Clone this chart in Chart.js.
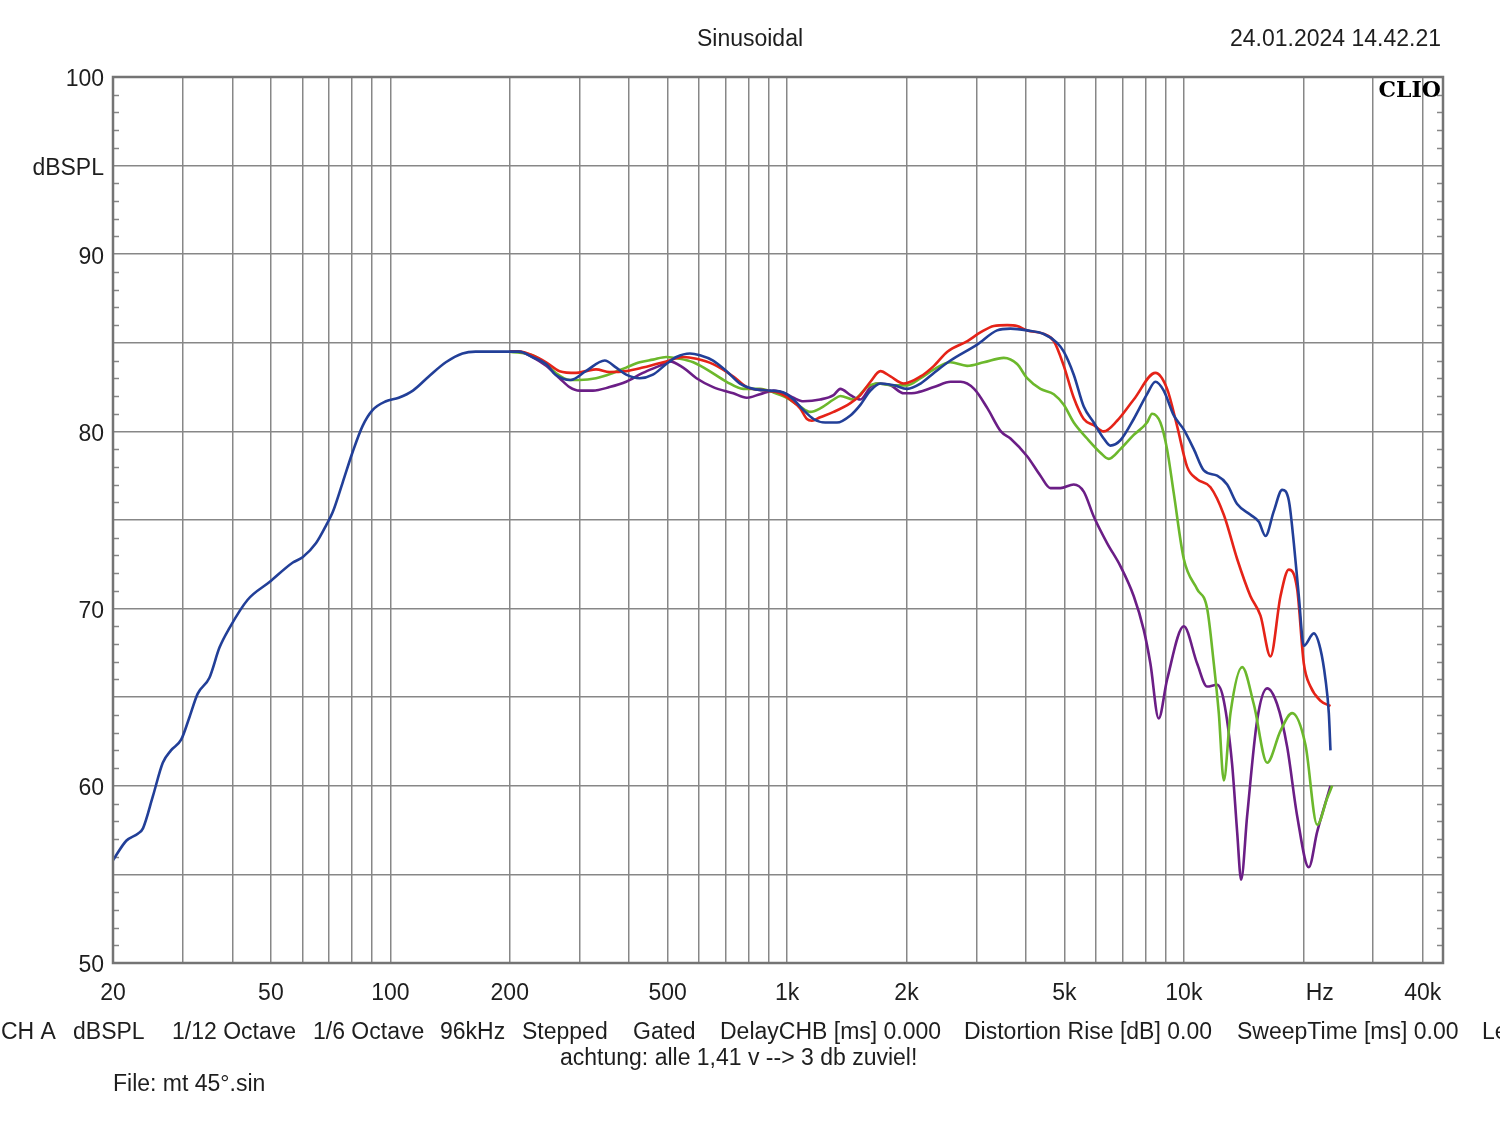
<!DOCTYPE html>
<html>
<head>
<meta charset="utf-8">
<title>Sinusoidal</title>
<script src="https://cdn.jsdelivr.net/npm/chart.js@4.4.1/dist/chart.umd.min.js"></script>
<style>
  html, body { margin: 0; padding: 0; background: #fff; }
</style>
</head>
<body>
<canvas id="clioChart" width="1500" height="1121"></canvas>
<script>
// frequency (Hz) / level (dBSPL)
const blueFreq = [20, 21.6, 23.1, 23.8, 25.2, 26.7, 28, 29.7, 31.2, 32.7, 35, 37.1, 39.3, 43.7, 49.6, 56.8, 60.1, 65, 68.9, 71.6, 75.8, 80.4, 85.1, 90.2, 97.5, 105, 114, 125, 138, 152, 164, 200,
  211, 228, 247, 261, 285, 311, 347, 371, 393, 425, 459, 496, 526, 569, 603, 651, 704, 761, 822, 906, 979, 1038, 1100, 1166, 1248, 1336, 1444, 1530, 1622, 1719, 1858, 2008,
  2169, 2344, 2581, 3013, 3384, 3656, 4027, 4436, 4793, 4982, 5279, 5594, 5928, 6282, 6530, 6920, 7477, 8078, 8478, 8898, 9434, 9998, 10595, 11229, 12133, 12857, 13626, 14722, 15452, 16062, 16858, 17693, 18391, 18933, 19490, 20064, 21262, 22102, 22752, 23197, 23422];
const blueDb = [55.8, 56.9, 57.3, 57.6, 59.4, 61.3, 62.0, 62.6, 63.9, 65.2, 66.1, 67.8, 68.9, 70.5, 71.5, 72.6, 72.9, 73.7, 74.7, 75.45, 77.1, 78.85, 80.3, 81.2, 81.7, 81.9, 82.3, 83.1, 83.9, 84.4, 84.5, 84.5,
  84.5, 84.2, 83.8, 83.2, 82.9, 83.4, 84.0, 83.6, 83.2, 83.0, 83.2, 83.8, 84.2, 84.4, 84.3, 84.0, 83.4, 82.7, 82.4, 82.3, 82.2, 81.8, 81.2, 80.7, 80.5, 80.5, 80.9, 81.5, 82.3, 82.7, 82.6, 82.4,
  82.7, 83.3, 84.0, 84.9, 85.7, 85.8, 85.7, 85.5, 85.0, 84.5, 83.2, 81.4, 80.5, 79.6, 79.2, 79.5, 80.7, 82.1, 82.8, 82.3, 80.9, 80.1, 79.0, 77.8, 77.5, 77.0, 75.9, 75.3, 74.9, 74.1, 75.5, 76.7, 76.1, 73.7, 70.7, 67.9, 68.6, 67.7, 66.0, 64.1, 62.0];

const redFreq = [200, 211, 228, 247, 267, 294, 311, 330, 357, 393, 433, 468, 496, 547, 591, 651, 732, 791, 888, 960, 1018, 1079, 1122, 1155, 1212, 1310, 1444, 1530, 1622, 1719, 1822, 1969,
  2170, 2345, 2535, 2848, 3078, 3319, 3586, 3800, 4027, 4436, 4701, 4982, 5279, 5594, 5928, 6282, 6788, 7479, 8481, 9075, 9618, 10194, 10802, 11672, 12611, 13626, 14722, 15603, 16535, 17523, 18391, 19303, 20064, 20855, 22102, 23422];
const redDb = [84.5, 84.5, 84.3, 83.9, 83.4, 83.3, 83.4, 83.5, 83.35, 83.4, 83.6, 83.8, 83.95, 84.2, 84.1, 83.8, 83.1, 82.5, 82.3, 82.15, 81.8, 81.3, 80.7, 80.6, 80.8, 81.1, 81.6, 82.05, 82.8, 83.4, 83.1, 82.7,
  83.1, 83.7, 84.5, 85.1, 85.6, 85.95, 86.0, 85.95, 85.7, 85.5, 85.1, 83.7, 81.9, 80.7, 80.35, 80.0, 80.6, 81.8, 83.3, 82.4, 80.3, 78.0, 77.3, 76.85, 75.3, 72.8, 70.7, 69.6, 67.3, 70.7, 72.2, 71.1, 66.9, 65.6, 64.8, 64.5];

const greenFreq = [200, 228, 247, 261, 283, 300, 330, 364, 393, 425, 459, 496, 536, 580, 627, 704, 775, 855, 924, 998, 1079, 1144, 1212, 1310, 1362, 1472, 1591, 1686, 1858, 2008,
  2170, 2345, 2581, 2843, 3132, 3518, 3800, 4027, 4351, 4701, 4982, 5279, 5703, 6162, 6467, 6920, 7477, 8078, 8316, 8728, 9072, 9434, 9998, 10802, 11448, 11900, 12250, 12611, 13109, 14027, 15010, 16218, 17523, 18750, 20259, 21678, 22973, 23650];
const greenDb = [84.5, 84.3, 83.8, 83.3, 82.9, 82.9, 83.0, 83.3, 83.6, 83.9, 84.05, 84.2, 84.1, 83.9, 83.5, 82.8, 82.4, 82.4, 82.2, 81.9, 81.4, 81.1, 81.3, 81.8, 82.0, 81.8, 82.5, 82.7, 82.6, 82.6,
  83.0, 83.5, 83.9, 83.7, 83.9, 84.15, 83.8, 83.0, 82.4, 82.1, 81.5, 80.5, 79.6, 78.8, 78.45, 79.0, 79.8, 80.5, 81.0, 80.5, 79.0, 76.5, 72.8, 71.1, 70.0, 66.9, 64.1, 60.3, 64.1, 66.7, 64.6, 61.3, 63.1, 64.1, 62.3, 57.8, 59.3, 60.0];

const purpleFreq = [200, 211, 228, 247, 267, 283, 300, 324, 357, 393, 433, 477, 506, 547, 591, 651, 732, 791, 855, 924, 998, 1038, 1100, 1212, 1310, 1362, 1444, 1530, 1622, 1686, 1822, 1969,
  2128, 2345, 2584, 2739, 2961, 3200, 3459, 3656, 4027, 4351, 4611, 4887, 5279, 5594, 5928, 6405, 6920, 7479, 7924, 8236, 8643, 9075, 9998, 10802, 11448, 12133, 12611, 13236, 13626, 13946, 14440, 15303, 16218, 17187, 18214, 19303, 20654, 21678, 23422];
const purpleDb = [84.5, 84.5, 84.2, 83.7, 83.0, 82.5, 82.3, 82.3, 82.5, 82.8, 83.3, 83.7, 83.95, 83.6, 83.0, 82.5, 82.15, 81.9, 82.1, 82.3, 82.1, 81.9, 81.7, 81.8, 82.05, 82.4, 82.05, 81.8, 82.5, 82.7, 82.6, 82.15,
  82.2, 82.5, 82.8, 82.8, 82.4, 81.3, 80.0, 79.6, 78.6, 77.5, 76.8, 76.8, 77.0, 76.6, 75.2, 73.7, 72.4, 70.7, 68.8, 66.9, 63.8, 66.0, 69.0, 66.9, 65.6, 65.7, 64.8, 61.2, 57.4, 54.7, 58.3, 63.7, 65.5, 64.6, 62.2, 58.3, 55.4, 57.4, 60.0];

const xTicks = [20, 30, 40, 50, 60, 70, 80, 90, 100, 200, 300, 400, 500, 600, 700, 800, 900,
  1000, 2000, 3000, 4000, 5000, 6000, 7000, 8000, 9000, 10000, 20000, 22000, 30000, 40000];
const xLabels = { 20: '20', 50: '50', 100: '100', 200: '200', 500: '500', 1000: '1k', 2000: '2k',
  5000: '5k', 10000: '10k', 22000: 'Hz', 40000: '40k' };
const yLabels = { 100: '100', 95: 'dBSPL', 90: '90', 80: '80', 70: '70', 60: '60', 50: '50' };

const FONT = '"Liberation Sans", Arial, sans-serif';
const TEXT = '#1e1e1e';
const GRID = '#878787';

const toPoints = (f, d) => f.map((v, i) => ({ x: v, y: d[i] }));

// frame + 1 dB minor ticks on both sides
const framePlugin = {
  id: 'frame',
  beforeDatasetsDraw(chart) {
    const { ctx, chartArea: a, scales: { y } } = chart;
    ctx.save();
    ctx.strokeStyle = GRID;
    ctx.lineWidth = 1.5;
    for (let v = 51; v < 100; v++) {
      if (v % 5 === 0) continue;
      const py = Math.round(y.getPixelForValue(v)) + 0.5;
      ctx.beginPath();
      ctx.moveTo(a.left, py); ctx.lineTo(a.left + 6, py);
      ctx.moveTo(a.right, py); ctx.lineTo(a.right - 6, py);
      ctx.stroke();
    }
    ctx.restore();
  },
  afterDraw(chart) {
    const { ctx, chartArea: a } = chart;
    ctx.save();
    ctx.strokeStyle = '#747474';
    ctx.lineWidth = 2.5;
    ctx.strokeRect(a.left, a.top, a.right - a.left, a.bottom - a.top);
    ctx.restore();
  }
};

const textPlugin = {
  id: 'texts',
  afterDraw(chart) {
    const { ctx, chartArea: a } = chart;
    ctx.save();
    ctx.fillStyle = TEXT;
    ctx.textBaseline = 'middle';
    ctx.font = '23px ' + FONT;
    ctx.textAlign = 'center';
    ctx.fillText('Sinusoidal', 750, 40);
    ctx.textAlign = 'right';
    ctx.fillText('24.01.2024 14.42.21', 1441, 40);

    ctx.textAlign = 'left';
    const info = [
      ['CH A', 1], ['dBSPL', 73], ['1/12 Octave', 172], ['1/6 Octave', 313], ['96kHz', 440],
      ['Stepped', 522], ['Gated', 633], ['DelayCHB [ms] 0.000', 720],
      ['Distortion Rise [dB] 0.00', 964], ['SweepTime [ms] 0.00', 1237], ['Le', 1482]
    ];
    info.forEach(([t, x]) => ctx.fillText(t, x, 1033));
    ctx.fillText('achtung: alle 1,41 v --> 3 db zuviel!', 560, 1059);
    ctx.fillText('File: mt 45°.sin', 113, 1085);

    ctx.fillStyle = '#000';
    ctx.font = 'bold 22px "DejaVu Serif", "Liberation Serif", serif';
    ctx.textAlign = 'right';
    ctx.fillText('CLIO', a.right - 2, a.top + 14);
    ctx.restore();
  }
};

const line = (data, color) => ({
  data, borderColor: color, backgroundColor: color, borderWidth: 2.6,
  pointRadius: 0, fill: false, cubicInterpolationMode: 'monotone'
});

new Chart(document.getElementById('clioChart'), {
  type: 'line',
  data: {
    datasets: [
      line(toPoints(blueFreq, blueDb), '#223f98'),
      line(toPoints(redFreq, redDb), '#e52318'),
      line(toPoints(greenFreq, greenDb), '#6cb82c'),
      line(toPoints(purpleFreq, purpleDb), '#6b1e86')
    ]
  },
  options: {
    responsive: false,
    animation: false,
    devicePixelRatio: 1,
    layout: { padding: { top: 77, right: 57, left: 0, bottom: 0 } },
    plugins: { legend: { display: false }, tooltip: { enabled: false } },
    scales: {
      x: {
        type: 'logarithmic',
        min: 20,
        max: 45000,
        afterBuildTicks: s => { s.ticks = xTicks.map(v => ({ value: v })); },
        afterFit: s => { s.height = 158; },
        grid: {
          color: c => (c.tick && c.tick.value === 22000) ? 'rgba(0,0,0,0)' : GRID,
          lineWidth: 1.5,
          drawTicks: false
        },
        border: { display: false },
        ticks: {
          autoSkip: false, maxRotation: 0, padding: 17, color: TEXT,
          font: { family: FONT, size: 23 },
          callback: v => xLabels[v] || ''
        }
      },
      y: {
        min: 50,
        max: 100,
        afterFit: s => { s.width = 113; },
        grid: { color: GRID, lineWidth: 1.5, drawTicks: false },
        border: { display: false },
        ticks: {
          stepSize: 5, autoSkip: false, padding: 9, labelOffset: 3, color: TEXT,
          font: { family: FONT, size: 23 },
          callback: v => yLabels[v] || ''
        }
      }
    }
  },
  plugins: [framePlugin, textPlugin]
});
</script>
</body>
</html>
